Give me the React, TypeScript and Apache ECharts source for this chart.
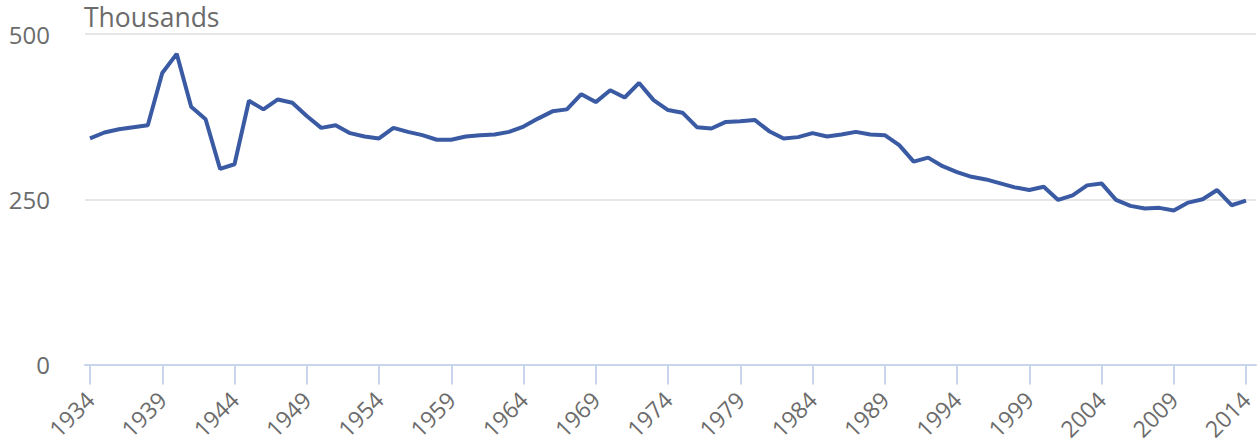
import React, { useEffect, useRef } from "react";
import * as echarts from "echarts";

const years: number[] = [];
for (let y = 1934; y <= 2014; y++) years.push(y);

const values: number[] = [
  342, 351, 356, 359, 362, 441, 470, 390, 371, 296,
  303, 399, 386, 401, 396, 376, 358, 362, 350, 345,
  342, 358, 352, 347, 340, 340, 345, 347, 348, 352,
  360, 372, 383, 386, 409, 397, 415, 404, 426, 400,
  385, 381, 359, 357, 367, 368, 370, 353, 342, 344,
  350, 345, 348, 352, 348, 347, 332, 307, 313, 300,
  291, 284, 280, 274, 268, 264, 269, 249, 256, 271,
  274, 249, 240, 236, 237, 233, 245, 250, 264, 241, 248,
];

const tickYears: number[] = [1934, 1939, 1944, 1949, 1954, 1959, 1964, 1969, 1974, 1979, 1984, 1989, 1994, 1999, 2004, 2009, 2014];
const yTicks: number[] = [0, 250, 500];
const unitLabel = "Thousands";

export default function App() {
  const ref = useRef<HTMLDivElement>(null);
  useEffect(() => {
    if (!ref.current) return;
    const chart = echarts.init(ref.current, undefined, { renderer: "svg" });
    const font = "'Open Sans', 'Noto Sans', sans-serif";
    chart.setOption({
      animation: false,
      backgroundColor: "#ffffff",
      grid: { left: 85, right: 4, top: 34, bottom: 78, containLabel: false },
      graphic: [
        {
          type: "text",
          left: 84,
          top: 3,
          style: { text: unitLabel, fontSize: 26.5, fill: "#6b6b6b", fontFamily: font },
        },
      ],
      xAxis: {
        type: "value",
        min: 1933.654,
        max: 2014.69,
        splitLine: { show: false },
        axisLine: { show: true, lineStyle: { color: "#c9d5ec", width: 2 } },
        axisTick: {
          show: true,
          customValues: tickYears,
          length: 20,
          lineStyle: { color: "#c9d5ec", width: 2 },
        },
        axisLabel: {
          customValues: tickYears,
          rotate: 45,
          fontSize: 23,
          color: "#6b6b6b",
          fontFamily: font,
          margin: 31,
          formatter: (v: number) => String(Math.round(v)),
        },
      },
      yAxis: {
        type: "value",
        min: 0,
        max: 500,
        interval: 250,
        axisLine: { show: false },
        axisTick: { show: false },
        splitLine: { show: true, lineStyle: { color: "#e6e6e6", width: 2 } },
        axisLabel: {
          fontSize: 24,
          color: "#6b6b6b",
          fontFamily: font,
          margin: 35,
          customValues: yTicks,
        },
      },
      series: [
        {
          type: "line",
          data: years.map((y, i) => [y, values[i]]),
          showSymbol: false,
          symbol: "none",
          lineStyle: { color: "#3a5aa3", width: 4 },
          itemStyle: { color: "#3a5aa3" },
        },
      ],
    });
    return () => chart.dispose();
  }, []);
  return (
    <div
      ref={ref}
      style={{ position: "fixed", left: 0, top: 0, width: 1260, height: 443 }}
    />
  );
}
